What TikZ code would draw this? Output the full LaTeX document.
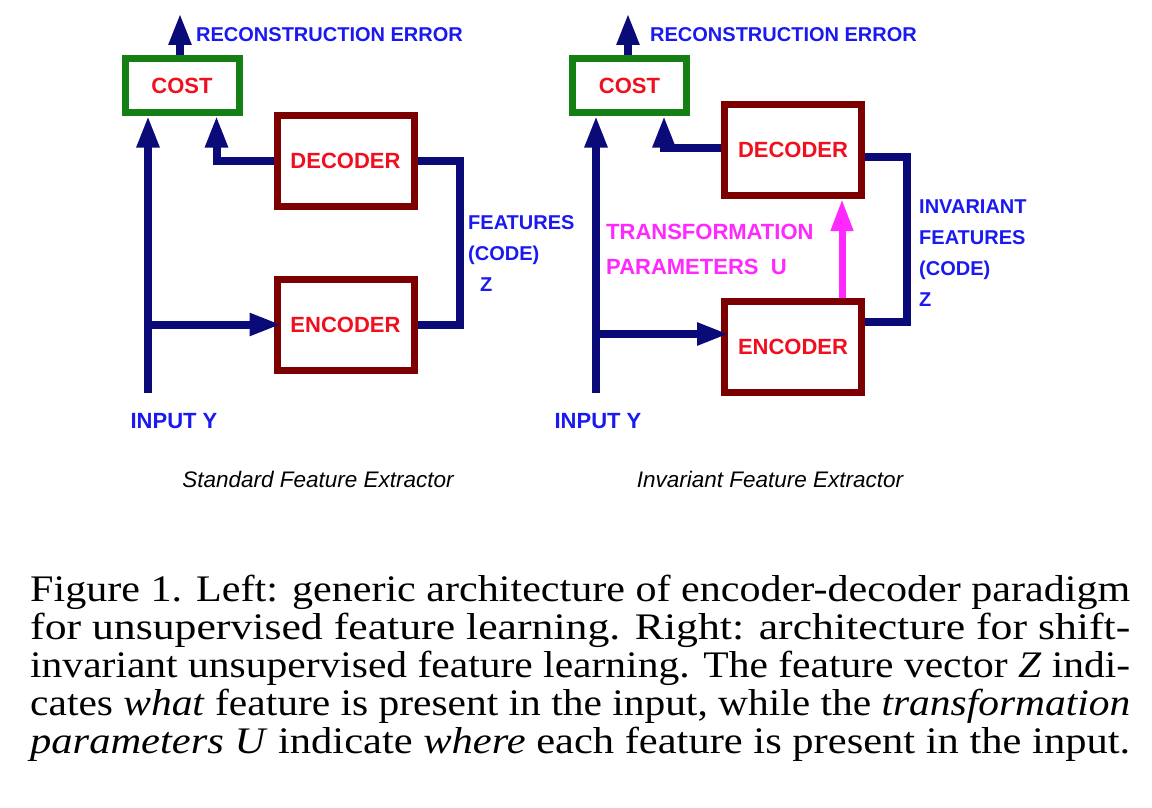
\documentclass[tikz,border=0pt]{standalone}
\usepackage{fontspec}
\usepackage{graphicx}
\setmainfont{Liberation Serif}
\newfontfamily\diagfont{Liberation Sans}
\usetikzlibrary{arrows.meta}
\definecolor{linenavy}{RGB}{10,10,120}
\definecolor{labelblue}{RGB}{25,25,240}
\definecolor{boxred}{RGB}{125,0,0}
\definecolor{costgreen}{RGB}{20,128,20}
\definecolor{textred}{RGB}{240,15,30}
\definecolor{tfmagenta}{RGB}{255,40,255}
\newcommand\capline[1]{\resizebox{1100pt}{\height}{#1}}

\begin{document}
\begin{tikzpicture}[x=1pt,y=-1pt,
	codebox/.style={draw=boxred,line width=7pt,minimum width=137pt,minimum height=91pt,inner sep=0pt,
		text=textred,font=\diagfont\bfseries\fontsize{22}{26}\selectfont},
	costbox/.style={codebox,draw=costgreen,minimum width=114pt,minimum height=53pt},
	wire/.style={linenavy,line width=8pt},
	headarrow/.style={-{Triangle[length=32pt,width=21pt]}},
	bluelabel/.style={text=labelblue,inner sep=0pt,align=left,font=\diagfont\bfseries\fontsize{20}{31}\selectfont},
	inlabel/.style={text=labelblue,inner sep=0pt,font=\diagfont\bfseries\fontsize{22}{26}\selectfont},
	subcap/.style={inner sep=0pt,font=\diagfont\itshape\fontsize{22.5}{26}\selectfont}]
	\useasboundingbox (0,0) rectangle (1152,808);

	\node[costbox] (costL) at (182,85.5) {COST};
	\node[codebox] (decL) at (345.5,160.5) {DECODER};
	\node[codebox] (encL) at (345.5,324.5) {ENCODER};
	\coordinate (srcL) at (148,393);
	\coordinate (outL) at (180,13);
	\node[bluelabel,anchor=west] (errL) at (196,35) {RECONSTRUCTION ERROR};
	\node[bluelabel,anchor=north west] (featL) at (468,215) {FEATURES\\(CODE)\\\hspace*{12pt}Z};
	\node[inlabel] (inL) at (174,421) {INPUT Y};
	\node[subcap] (capL) at (318,479) {Standard Feature Extractor};

	\draw[wire,headarrow] (outL |- costL.north) -- (outL);
	\draw[wire,headarrow] (srcL) -- (srcL |- costL.south);
	\draw[wire,headarrow,shorten >=-8pt] (srcL |- encL.west) -- (encL.west);
	\draw[wire,headarrow] (decL.west) -| ([xshift=-26pt]costL.south east);
	\draw[wire] (decL.east) -- ++(42,0) |- (encL.east);

	\node[costbox] (costR) at (629.5,85.5) {COST};
	\node[codebox] (decR) at (793,150) {DECODER};
	\node[codebox] (encR) at (793,346.5) {ENCODER};
	\coordinate (srcR) at (596,393);
	\coordinate (outR) at (628,13);
	\coordinate (brR) at ([yshift=12.5pt]encR.west);
	\node[bluelabel,anchor=west] (errR) at (650,35) {RECONSTRUCTION ERROR};
	\node[bluelabel,anchor=north west] (featR) at (919,200) {INVARIANT\\FEATURES\\(CODE)\\Z};
	\node[inlabel,text=tfmagenta,align=left,anchor=north west,font=\diagfont\bfseries\fontsize{22}{35}\selectfont] (tfR) at (606,224)
		{TRANSFORMATION\\PARAMETERS\ \ U};
	\node[inlabel] (inR) at (598,421) {INPUT Y};
	\node[subcap] (capR) at (770,479) {Invariant Feature Extractor};

	\draw[wire,headarrow] (outR |- costR.north) -- (outR);
	\draw[wire,headarrow] (srcR) -- (srcR |- costR.south);
	\draw[wire,headarrow,shorten >=-8pt] (srcR |- brR) -- (brR);
	\draw[wire,headarrow] ([yshift=2pt]decR.west) -| ([xshift=-26pt]costR.south east);
	\draw[wire] ([yshift=-7pt]decR.east) -- ++(42,0) |- ([yshift=24.5pt]encR.east);
	\draw[tfmagenta,line width=7pt,headarrow] ([xshift=49pt]encR.north) -- ([xshift=49pt]decR.south);

	\node[inner sep=0pt,anchor=north west,align=left,font=\fontsize{37.5}{38}\selectfont] (figcap) at (30,575) {%
		\capline{Figure 1. Left: generic architecture of encoder-decoder paradigm}\\
		\capline{for unsupervised feature learning. Right: architecture for shift-}\\
		\capline{invariant unsupervised feature learning. The feature vector \textit{Z} indi-}\\
		\capline{cates \textit{what} feature is present in the input, while the \textit{transformation}}\\
		\capline{\textit{parameters U\/} indicate \textit{where} each feature is present in the input.}};
\end{tikzpicture}
\end{document}
